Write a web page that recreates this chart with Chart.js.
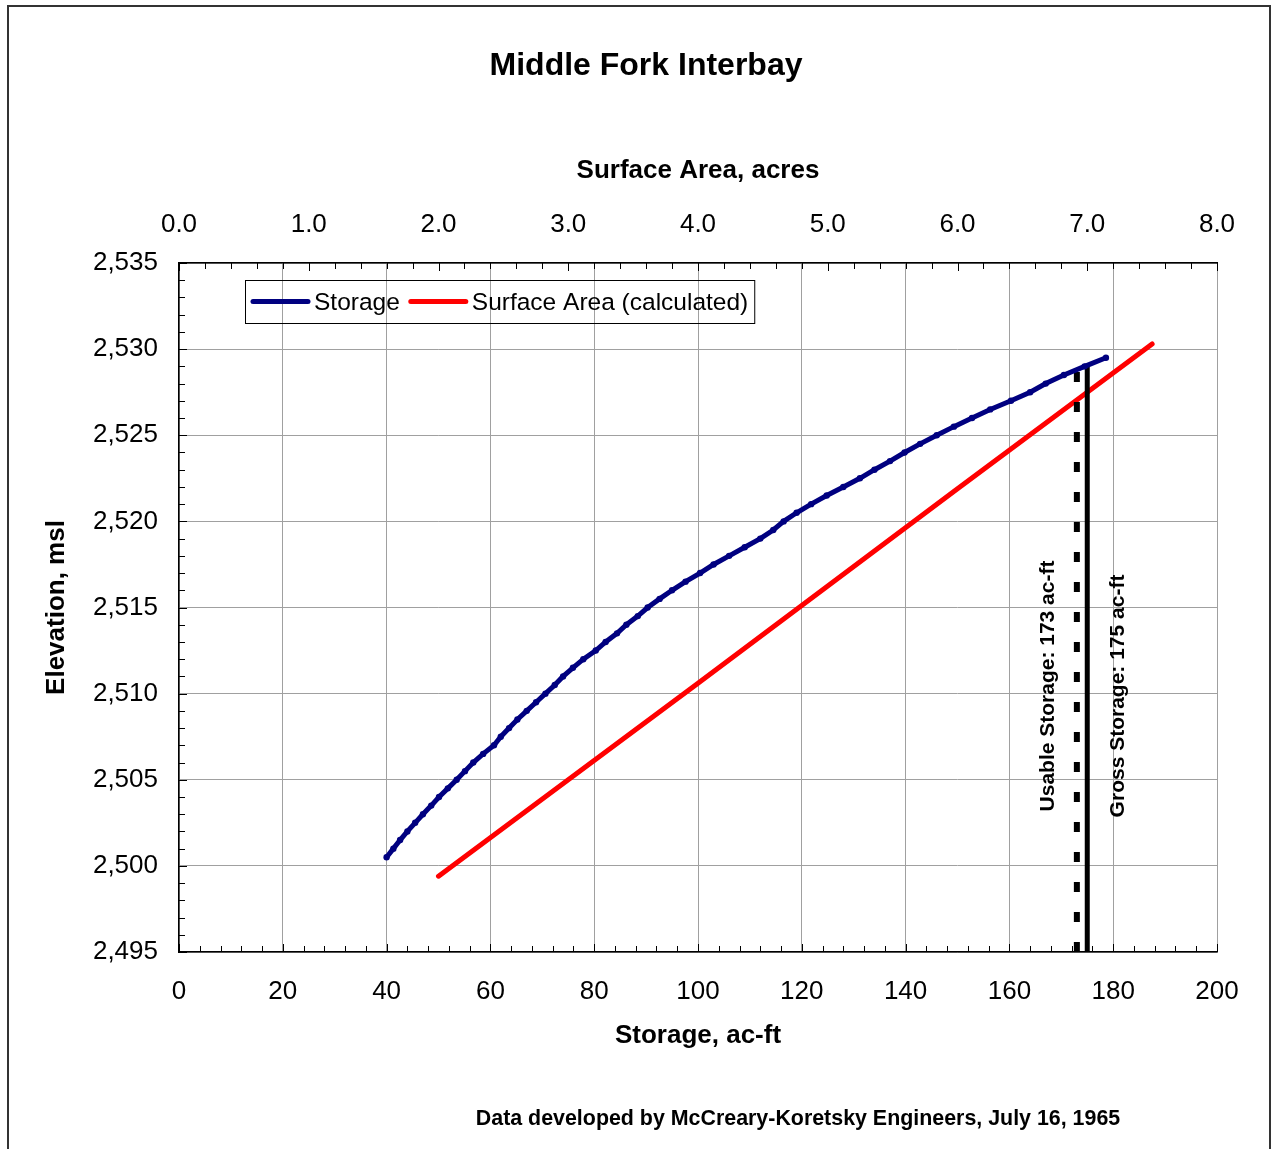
<!DOCTYPE html>
<html>
  <head>
    <title>Middle Fork Interbay</title>
    <script src="https://cdn.jsdelivr.net/npm/chart.js"></script>
    <style>
      body { margin: 0; background: #fff; }
      canvas { display: block; }
    </style>
  </head>
  <body>
    <canvas id="chart" width="1273" height="1149"></canvas>

    <script>
      // Storage curve (elevation in ft msl, storage in ac-ft)
      const elevation = [2500.5, 2501.0, 2501.5, 2502.0, 2502.5, 2503.0, 2503.5, 2504.0, 2504.5, 2505.0,
        2505.5, 2506.0, 2506.5, 2507.0, 2507.5, 2508.0, 2508.5, 2509.0, 2509.5, 2510.0,
        2510.5, 2511.0, 2511.5, 2512.0, 2512.5, 2513.0, 2513.5, 2514.0, 2514.5, 2515.0,
        2515.5, 2516.0, 2516.5, 2517.0, 2517.5, 2518.0, 2518.5, 2519.0, 2519.5, 2520.0,
        2520.5, 2521.0, 2521.5, 2522.0, 2522.5, 2523.0, 2523.5, 2524.0, 2524.5, 2525.0,
        2525.5, 2526.0, 2526.5, 2527.0, 2527.5, 2528.0, 2528.5, 2529.0, 2529.5];
      const storage = [40.0, 41.3, 42.6, 44.0, 45.5, 47.0, 48.6, 50.1, 51.8, 53.5,
        55.1, 56.7, 58.6, 60.7, 62.0, 63.6, 65.2, 67.0, 68.8, 70.6,
        72.4, 74.0, 75.9, 77.9, 80.3, 82.2, 84.4, 86.2, 88.4, 90.3,
        92.6, 95.0, 97.6, 100.4, 103.0, 106.0, 109.0, 112.0, 114.5, 116.5,
        119.0, 121.8, 124.8, 128.0, 131.2, 134.0, 137.0, 139.8, 142.8, 146.0,
        149.3, 152.8, 156.3, 160.3, 164.0, 167.0, 170.5, 174.5, 178.6];

      // Surface area (calculated) line, top axis in acres
      const areaAcres = [2.0, 4.0, 6.0, 7.5];
      const areaElevation = [2499.4, 2510.6, 2521.9, 2530.3];

      // Usable / gross storage markers
      const usableStorage = 173;
      const grossStorage = 175;
      const markerBottom = 2495;
      const usableTop = 2528.9;
      const grossTop = 2529.1;

      // Axes
      const storageRange = [0, 200], storageStep = 20, storageMinor = 4;
      const areaRange = [0, 8], areaStep = 1, areaMinor = 0.2;
      const elevRange = [2495, 2535], elevStep = 5, elevMinor = 1;

      const FONT = '"Liberation Sans", Arial, sans-serif';
      Chart.defaults.font.family = FONT;
      Chart.defaults.color = '#000';

      // inward tick marks, frame, title, legend, footer and rotated notes
      const decor = {
        id: 'decor',
        afterDraw(chart) {
          const { ctx, chartArea: a, scales } = chart;
          ctx.save();

          // outer frame
          ctx.strokeStyle = '#333';
          ctx.lineWidth = 2;
          ctx.beginPath();
          ctx.moveTo(8, 1149); ctx.lineTo(8, 6); ctx.lineTo(1270, 6); ctx.lineTo(1270, 1149);
          ctx.stroke();

          // tick marks pointing into the plot
          ctx.strokeStyle = '#000';
          ctx.lineWidth = 1;
          ctx.beginPath();
          for (let v = storageRange[0]; v <= storageRange[1]; v += storageMinor) {
            const px = Math.round(scales.x.getPixelForValue(v)) + 0.5;
            ctx.moveTo(px, a.bottom); ctx.lineTo(px, a.bottom - (v % storageStep === 0 ? 8 : 6));
          }
          const nTop = Math.round((areaRange[1] - areaRange[0]) / areaMinor);
          for (let i = 0; i <= nTop; i++) {
            const px = Math.round(scales.x2.getPixelForValue(areaRange[0] + i * areaMinor)) + 0.5;
            ctx.moveTo(px, a.top); ctx.lineTo(px, a.top + (i % 5 === 0 ? 8 : 6));
          }
          for (let v = elevRange[0]; v <= elevRange[1]; v += elevMinor) {
            const py = Math.round(scales.y.getPixelForValue(v)) + 0.5;
            ctx.moveTo(a.left, py); ctx.lineTo(a.left + (v % elevStep === 0 ? 8 : 6), py);
          }
          ctx.stroke();

          ctx.fillStyle = '#000';
          ctx.textBaseline = 'middle';

          // title
          ctx.textAlign = 'center';
          ctx.font = 'bold 32px ' + FONT;
          ctx.fillText('Middle Fork Interbay', 646, 66);

          // footer
          ctx.font = 'bold 21.4px ' + FONT;
          ctx.fillText('Data developed by McCreary-Koretsky Engineers, July 16, 1965', 798, 1119);

          // rotated notes beside the storage markers
          ctx.font = 'bold 21px ' + FONT;
          const notes = [
            ['Usable Storage: 173 ac-ft', scales.x.getPixelForValue(usableStorage) - 29, 686],
            ['Gross Storage: 175 ac-ft', scales.x.getPixelForValue(grossStorage) + 31, 696]
          ];
          notes.forEach(([t, x, y]) => {
            ctx.save();
            ctx.translate(x, y);
            ctx.rotate(-Math.PI / 2);
            ctx.fillText(t, 0, 0);
            ctx.restore();
          });

          // legend
          ctx.font = '24.5px ' + FONT;
          ctx.textAlign = 'left';
          const items = chart.data.datasets.filter(d => d.inLegend);
          const boxL = a.left + 66, boxT = a.top + 17, boxH = 43;
          const sample = 55;
          let x = boxL + 8;
          const cy = boxT + boxH / 2;
          items.forEach((d, i) => {
            ctx.strokeStyle = d.borderColor;
            ctx.lineWidth = 5;
            ctx.lineCap = 'round';
            ctx.beginPath();
            ctx.moveTo(x, cy); ctx.lineTo(x + sample, cy);
            ctx.stroke();
            x += sample + 6;
            ctx.fillText(d.label, x, cy + 2);
            x += ctx.measureText(d.label).width + (i < items.length - 1 ? 11 : 6);
          });
          ctx.lineCap = 'butt';
          ctx.strokeStyle = '#000';
          ctx.lineWidth = 1;
          ctx.strokeRect(boxL + 0.5, boxT + 0.5, x - boxL, boxH);

          ctx.restore();
        }
      };

      const tickFont = { size: 26 };
      const titleFont = { size: 26, weight: 'bold' };

      new Chart(document.getElementById('chart').getContext('2d'), {
        type: 'scatter',
        data: {
          datasets: [
            {
              label: 'Storage',
              inLegend: true,
              data: storage.map((s, i) => ({ x: s, y: elevation[i] })),
              showLine: true,
              borderColor: '#000080',
              backgroundColor: '#000080',
              borderWidth: 5,
              pointRadius: 3.2,
              pointBorderWidth: 0,
              xAxisID: 'x',
              yAxisID: 'y'
            },
            {
              label: 'Gross',
              data: [{ x: grossStorage, y: markerBottom }, { x: grossStorage, y: grossTop }],
              showLine: true,
              borderColor: '#000',
              borderWidth: 5,
              pointRadius: 0,
              xAxisID: 'x',
              yAxisID: 'y'
            },
            {
              label: 'Usable',
              data: [{ x: usableStorage, y: markerBottom }, { x: usableStorage, y: usableTop }],
              showLine: true,
              borderColor: '#000',
              borderWidth: 6,
              borderDash: [10, 20],
              pointRadius: 0,
              xAxisID: 'x',
              yAxisID: 'y'
            },
            {
              label: 'Surface Area (calculated)',
              inLegend: true,
              data: areaAcres.map((s, i) => ({ x: s, y: areaElevation[i] })),
              showLine: true,
              borderColor: '#ff0000',
              borderWidth: 5,
              borderCapStyle: 'round',
              pointRadius: 0,
              xAxisID: 'x2',
              yAxisID: 'y'
            }
          ]
        },
        options: {
          responsive: false,
          animation: false,
          events: [],
          layout: { padding: { left: 30, right: 56, top: 140, bottom: 87 }, autoPadding: false },
          plugins: {
            legend: { display: false },
            title: { display: false },
            tooltip: { enabled: false }
          },
          scales: {
            x: {
              type: 'linear',
              position: 'bottom',
              min: storageRange[0], max: storageRange[1],
              afterFit: s => { s.height = 110; },
              ticks: { stepSize: storageStep, font: tickFont, padding: 24, maxRotation: 0 },
              grid: { color: '#a0a0a0', drawTicks: false },
              border: { color: '#000', width: 1.5 },
              title: { display: true, text: 'Storage, ac-ft', font: titleFont, padding: { top: 0, bottom: 10.4 } }
            },
            x2: {
              type: 'linear',
              position: 'top',
              min: areaRange[0], max: areaRange[1],
              afterFit: s => { s.height = 123; },
              ticks: { stepSize: areaStep, font: tickFont, padding: 23, maxRotation: 0, callback: v => v.toFixed(1) },
              grid: { drawOnChartArea: false, drawTicks: false },
              border: { color: '#000', width: 1.5 },
              title: { display: true, text: 'Surface Area, acres', font: titleFont, padding: { top: 15.4, bottom: 0 } }
            },
            y: {
              type: 'linear',
              position: 'left',
              min: elevRange[0], max: elevRange[1],
              afterFit: s => { s.width = 149; },
              ticks: { stepSize: elevStep, font: tickFont, padding: 21, callback: v => v.toLocaleString('en-US') },
              grid: { color: '#a0a0a0', drawTicks: false },
              border: { color: '#000', width: 1.5 },
              title: { display: true, text: 'Elevation, msl', font: titleFont, padding: { top: 11.4, bottom: 0 } }
            }
          }
        },
        plugins: [decor]
      });
    </script>
  </body>
</html>
